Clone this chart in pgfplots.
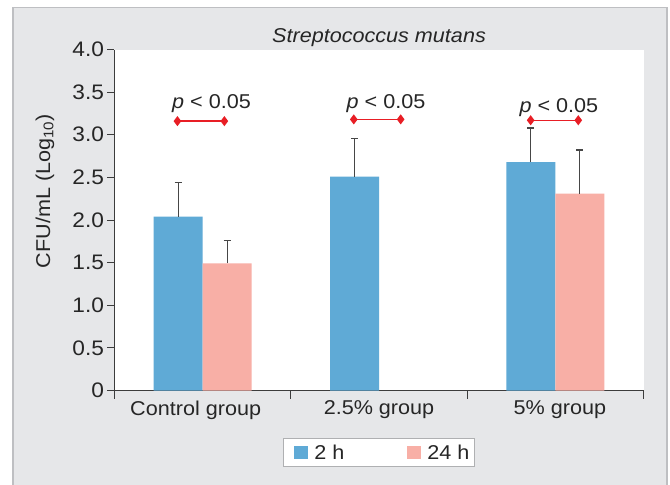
\documentclass[border=0pt]{standalone}
\usepackage{fontspec}
\setmainfont{Liberation Sans}[FakeStretch=1.08]
\usepackage{pgfplots}
\pgfplotsset{compat=1.18}
\definecolor{c2h}{RGB}{95,170,214}
\definecolor{c24h}{RGB}{248,175,166}
\definecolor{bggray}{RGB}{230,231,233}
\definecolor{framegray}{RGB}{190,191,194}
\definecolor{axisgray}{RGB}{60,60,60}
\definecolor{errgray}{RGB}{70,70,70}
\definecolor{sigred}{RGB}{232,30,37}
\definecolor{legendgray}{RGB}{175,176,178}
\newcommand{\fs}{\fontsize{20bp}{24bp}\selectfont}
\newcommand{\fst}{\fontsize{21bp}{25bp}\selectfont}
\begin{document}
\begin{tikzpicture}
\fill[white] (-114.5bp,-94.5bp) rectangle (555.5bp,390.5bp);
\fill[bggray, draw=framegray, line width=1.2bp] (-101.5bp,-100bp) rectangle (552.5bp,383.2bp);
\begin{axis}[
  at={(0,0)}, anchor=south west,
  scale only axis, width=529bp, height=341bp,
  xmin=-0.5, xmax=2.5, ymin=0, ymax=4,
  axis x line*=bottom, axis y line*=left,
  axis line style={draw=axisgray, line width=0.9bp, -},
  axis background/.style={fill=white},
  ytick={0,0.5,1,1.5,2,2.5,3,3.5,4},
  yticklabels={0,0.5,1.0,1.5,2.0,2.5,3.0,3.5,4.0},
  xtick={0,1,2},
  xticklabels={\hspace*{-14bp}Control group,2.5\% group,\hspace*{9bp}5\% group},
  minor xtick={-0.5,0.5,1.5,2.5},
  tick align=outside,
  major tick length=7bp, minor tick length=8bp,
  major x tick style={draw=none},
  minor x tick style={draw=axisgray, line width=0.9bp},
  y tick style={draw=axisgray, line width=0.9bp},
  xticklabel style={font=\fs, text=black!85},
  yticklabel style={font=\fst, text=black!85},
  ylabel={CFU/mL (Log\textsubscript{10})},
  ylabel style={font=\fs, text=black!85, at={(axis description cs:-0.1314,0.585)}, anchor=center},
  title={\itshape Streptococcus mutans},
  title style={font=\fs, text=black!85, at={(axis description cs:0.5,1)}, anchor=base, yshift=1bp},
  legend style={font=\fs, text=black!85, at={(axis description cs:0.5,-0.182)}, anchor=center,
    legend columns=2, draw=legendgray, line width=1bp, fill=white, inner ysep=4bp,
    /tikz/every even column/.append style={column sep=53bp}},
  legend cell align=left,
]
\addplot[forget plot, fill=c2h, draw=none, ybar, bar width=49bp, bar shift=0pt,
  error bars/.cd, y dir=plus, y explicit, error mark=|,
  error bar style={line width=1.3bp, draw=errgray},
  error mark options={draw=errgray, line width=1.3bp, mark size=3.5bp}]
  coordinates {(-0.1389,2.04) +- (0,0.40) (0.8611,2.51) +- (0,0.45) (1.8611,2.68) +- (0,0.40)};
\addplot[forget plot, fill=c24h, draw=none, ybar, bar width=49bp, bar shift=0pt,
  error bars/.cd, y dir=plus, y explicit, error mark=|,
  error bar style={line width=1.3bp, draw=errgray},
  error mark options={draw=errgray, line width=1.3bp, mark size=3.5bp}]
  coordinates {(0.1389,1.49) +- (0,0.27) (2.1389,2.31) +- (0,0.51)};
\addplot[forget plot, sigred, line width=1.3bp, mark=diamond*, mark size=4bp, mark options={solid, fill=sigred}]
  coordinates {(-0.143,3.16) (0.123,3.16)};
\addplot[forget plot, sigred, line width=1.3bp, mark=diamond*, mark size=4bp, mark options={solid, fill=sigred}]
  coordinates {(0.857,3.18) (1.123,3.18)};
\addplot[forget plot, sigred, line width=1.3bp, mark=diamond*, mark size=4bp, mark options={solid, fill=sigred}]
  coordinates {(1.86,3.17) (2.13,3.17)};
\node[font=\fs, text=black!85, anchor=base] at (axis cs:0.05,3.31) {\textit{p} < 0.05};
\node[font=\fs, text=black!85, anchor=base] at (axis cs:1.04,3.31) {\textit{p} < 0.05};
\node[font=\fs, text=black!85, anchor=base] at (axis cs:2.02,3.26) {\textit{p} < 0.05};
\addlegendimage{legend image code/.code={\path[draw=none,fill=none] (-8bp,-1bp) rectangle (18bp,1bp); \fill[c2h,draw=none] (0bp,-6bp) rectangle (14bp,7bp);}}
\addlegendentry{2 h}
\addlegendimage{legend image code/.code={\path[draw=none,fill=none] (-8bp,-1bp) rectangle (18bp,1bp); \fill[c24h,draw=none] (0bp,-6bp) rectangle (14bp,7bp);}}
\addlegendentry{24 h}
\end{axis}
\pgfresetboundingbox
\path[use as bounding box] (-114.5bp,-94.5bp) rectangle (555.5bp,390.5bp);
\end{tikzpicture}
\end{document}
